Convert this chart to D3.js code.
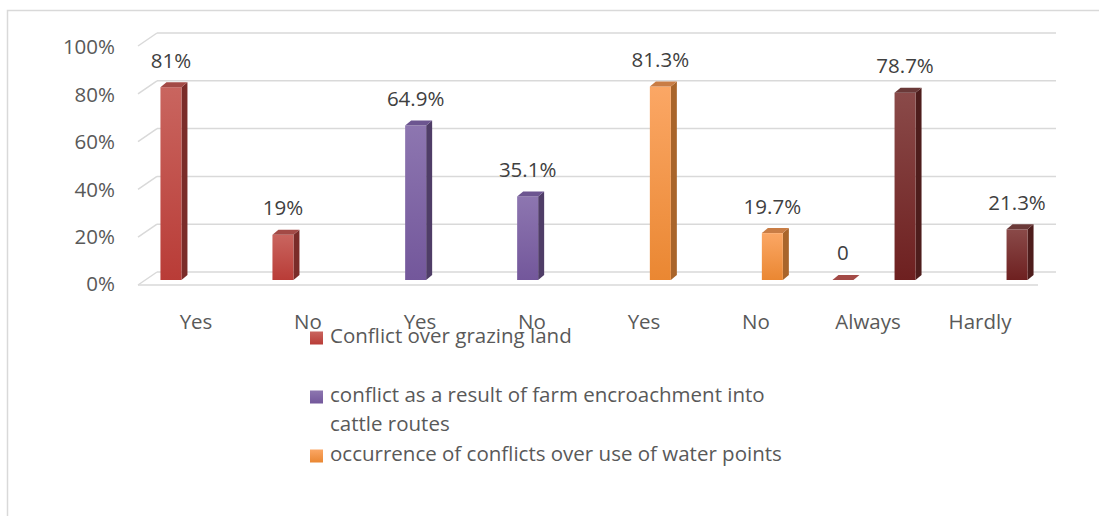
<!DOCTYPE html>
<html>
<head>
<meta charset="utf-8">
<script src="https://cdn.jsdelivr.net/npm/d3@7"></script>
<style>
  body { margin: 0; background: #fff; }
  svg { display: block; font-family: "Open Sans", sans-serif; }
</style>
</head>
<body>
<div id="chart"></div>
<script>
// categories along the x axis (labels repeat, so bars are keyed by index)
var categories = ["Yes", "No", "Yes", "No", "Yes", "No", "Always", "Hardly"];
var yTicks = [0, 0.2, 0.4, 0.6, 0.8, 1];

// percent values per series, null where the series has no bar
var grazing      = [81, 19, null, null, null, null, 0, null];
var encroachment = [null, null, 64.9, 35.1, null, null, null, null];
var water        = [null, null, null, null, 81.3, 19.7, null, null];
var frequency    = [null, null, null, null, null, null, 78.7, 21.3];

var legendNames = [
  "Conflict over grazing land",
  "conflict as a result of farm encroachment into cattle routes",
  "occurrence of conflicts over use of water points"
];

var W = 1099, H = 516;
var svg = d3.select("#chart").append("svg")
        .attr("width", W)
        .attr("height", H);

// colours: front top, front bottom, side, top face
var palette = [
  { a: "#c9655f", b: "#b93c37", side: "#7a2c29", top: "#a34a46" },
  { a: "#8d76b0", b: "#73579b", side: "#4f3d67", top: "#6c5590" },
  { a: "#fba765", b: "#ea8732", side: "#a9652b", top: "#c97d45" },
  { a: "#8a4a49", b: "#6e2020", side: "#4e1d1c", top: "#6a3938" }
];
var seriesData = [grazing, encroachment, water, frequency];

var defs = svg.append("defs");
palette.forEach(function(p, i) {
  var g = defs.append("linearGradient")
          .attr("id", "grad" + i)
          .attr("x1", 0).attr("y1", 0).attr("x2", 0).attr("y2", 1);
  g.append("stop").attr("offset", "0%").attr("stop-color", p.a);
  g.append("stop").attr("offset", "100%").attr("stop-color", p.b);
});

// chart border (only left and top edges show in the picture)
svg.append("path")
   .attr("d", "M7.5,516 L7.5,10.5 L1099,10.5")
   .attr("fill", "none")
   .attr("stroke", "#d9d9d9")
   .attr("stroke-width", 1.5);

// scales
var x = d3.scaleBand()
        .domain(d3.range(categories.length))
        .range([140, 1036]);

var yFront = d3.scaleLinear().domain([0, 1]).range([285, 46]);  // front edge of the side wall
var yLabel = d3.scaleLinear().domain([0, 1]).range([286, 49]);  // axis labels
var yBack  = d3.scaleLinear().domain([0, 1]).range([272, 33]);  // back wall gridlines
var yBar   = d3.scaleLinear().domain([0, 100]).range([280, 42]); // bars (mid depth)

var backX0 = 157, backX1 = 1056, frontX0 = 138, frontX1 = 1038;

// gridlines on the back wall plus diagonals on the side wall
var grid = svg.append("g")
        .attr("stroke", "#d9d9d9")
        .attr("stroke-width", 1.5)
        .attr("fill", "none");

grid.selectAll("line.back").data(yTicks).enter().append("line")
    .attr("class", "back")
    .attr("x1", backX0).attr("x2", backX1)
    .attr("y1", function(d) { return yBack(d); })
    .attr("y2", function(d) { return yBack(d); });

grid.selectAll("line.side").data(yTicks).enter().append("line")
    .attr("class", "side")
    .attr("x1", frontX0).attr("x2", backX0)
    .attr("y1", function(d) { return yFront(d); })
    .attr("y2", function(d) { return yBack(d); });

grid.append("line")
    .attr("x1", frontX0).attr("x2", frontX1)
    .attr("y1", yFront(0)).attr("y2", yFront(0));

// y axis labels
svg.append("g").selectAll("text").data(yTicks).enter().append("text")
   .attr("x", 115)
   .attr("y", function(d) { return yLabel(d); })
   .attr("text-anchor", "end")
   .attr("dominant-baseline", "middle")
   .attr("font-size", 20.5)
   .attr("fill", "#595959")
   .text(d3.format(".0%"));

// category labels
svg.append("g").selectAll("text").data(categories).enter().append("text")
   .attr("x", function(d, i) { return x(i) + x.bandwidth() / 2; })
   .attr("y", 324)
   .attr("text-anchor", "middle")
   .attr("dominant-baseline", "middle")
   .attr("font-size", 20.5)
   .attr("fill", "#595959")
   .text(function(d) { return d; });

// 3d bars
var slot = 20.7, barW = 21, dx = 6, dy = -5, groupShift = 6;

var bars = [];
seriesData.forEach(function(arr, s) {
  arr.forEach(function(v, i) {
    if (v === null) return;
    bars.push({ s: s, i: i, v: v });
  });
});

var barG = svg.append("g");
bars.forEach(function(d) {
  var cx = x(d.i) + x.bandwidth() / 2 + groupShift + (d.s - 1.5) * slot;
  var x0 = cx - barW / 2, x1 = cx + barW / 2;
  var yb = yBar(0), yt = yBar(d.v);
  var p = palette[d.s];
  var g = barG.append("g");
  if (d.v > 0) {
    // side face
    g.append("path")
     .attr("d", "M" + x1 + "," + yb + " L" + (x1 + dx) + "," + (yb + dy) +
                " L" + (x1 + dx) + "," + (yt + dy) + " L" + x1 + "," + yt + "Z")
     .attr("fill", p.side);
    // front face
    g.append("rect")
     .attr("x", x0).attr("y", yt)
     .attr("width", barW).attr("height", yb - yt)
     .attr("fill", "url(#grad" + d.s + ")");
  }
  // top face
  g.append("path")
   .attr("d", "M" + x0 + "," + yt + " L" + (x0 + dx) + "," + (yt + dy) +
              " L" + (x1 + dx) + "," + (yt + dy) + " L" + x1 + "," + yt + "Z")
   .attr("fill", p.top);

  // value label
  svg.append("text")
     .attr("x", cx)
     .attr("y", yt - 25)
     .attr("text-anchor", "middle")
     .attr("dominant-baseline", "middle")
     .attr("font-size", 20.5)
     .attr("fill", "#404040")
     .text(d.v === 0 ? "0" : d.v + "%");
});

// legend (fourth entry is clipped away in the original)
var legendRows = [
  { lines: [legendNames[0]], y: 338 },
  { lines: ["conflict as a result of farm encroachment into", "cattle routes"], y: 397 },
  { lines: [legendNames[2]], y: 456 }
];
var leg = svg.append("g");
legendRows.forEach(function(r, k) {
  leg.append("rect")
     .attr("x", 310).attr("y", r.y - 6.5)
     .attr("width", 13).attr("height", 13)
     .attr("fill", "url(#grad" + k + ")");
  r.lines.forEach(function(t, j) {
    leg.append("text")
       .attr("x", 330)
       .attr("y", r.y + j * 29)
       .attr("dominant-baseline", "middle")
       .attr("font-size", 20.5)
       .attr("fill", "#595959")
       .text(t);
  });
});
</script>
</body>
</html>
